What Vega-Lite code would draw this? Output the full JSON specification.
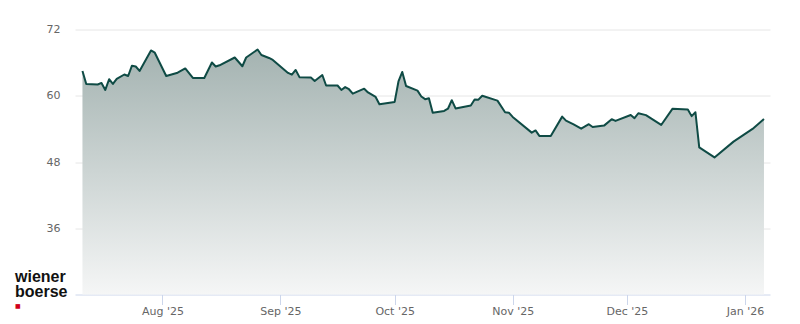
{
  "$schema": "https://vega.github.io/schema/vega-lite/v6.json",
  "width": 695,
  "height": 265,
  "autosize": {"type": "none"},
  "padding": {"left": 75, "top": 29.5, "right": 30, "bottom": 29.5},
  "background": "white",
  "config": {"view": {"stroke": null}, "font": "DejaVu Sans"},
  "title": {
    "text": ["wiener", "boerse"],
    "orient": "bottom",
    "anchor": "start",
    "frame": "group",
    "font": "Liberation Sans",
    "fontSize": 16,
    "fontWeight": "bold",
    "color": "#111111",
    "lineHeight": 15,
    "dx": -60,
    "offset": -48,
    "subtitle": "■",
    "subtitleFont": "DejaVu Sans",
    "subtitleColor": "#d0001a",
    "subtitleFontSize": 6,
    "subtitlePadding": 3
  },
  "data": {
    "values": [
      {"date": "2025-07-11", "price": 64.49},
      {"date": "2025-07-12", "price": 62.14},
      {"date": "2025-07-15", "price": 62.04},
      {"date": "2025-07-16", "price": 62.32},
      {"date": "2025-07-17", "price": 61.05},
      {"date": "2025-07-18", "price": 62.99},
      {"date": "2025-07-19", "price": 62.14},
      {"date": "2025-07-20", "price": 63.04},
      {"date": "2025-07-22", "price": 63.85},
      {"date": "2025-07-23", "price": 63.58},
      {"date": "2025-07-24", "price": 65.45},
      {"date": "2025-07-25", "price": 65.30},
      {"date": "2025-07-26", "price": 64.49},
      {"date": "2025-07-29", "price": 68.20},
      {"date": "2025-07-30", "price": 67.80},
      {"date": "2025-07-31", "price": 66.39},
      {"date": "2025-08-02", "price": 63.58},
      {"date": "2025-08-05", "price": 64.18},
      {"date": "2025-08-07", "price": 64.94},
      {"date": "2025-08-09", "price": 63.22},
      {"date": "2025-08-12", "price": 63.22},
      {"date": "2025-08-14", "price": 66.03},
      {"date": "2025-08-15", "price": 65.30},
      {"date": "2025-08-16", "price": 65.52},
      {"date": "2025-08-20", "price": 66.93},
      {"date": "2025-08-22", "price": 65.34},
      {"date": "2025-08-23", "price": 66.93},
      {"date": "2025-08-26", "price": 68.38},
      {"date": "2025-08-27", "price": 67.38},
      {"date": "2025-08-29", "price": 66.84},
      {"date": "2025-08-30", "price": 66.48},
      {"date": "2025-09-03", "price": 64.13},
      {"date": "2025-09-04", "price": 63.82},
      {"date": "2025-09-05", "price": 64.67},
      {"date": "2025-09-06", "price": 63.37},
      {"date": "2025-09-09", "price": 63.31},
      {"date": "2025-09-10", "price": 62.68},
      {"date": "2025-09-12", "price": 63.76},
      {"date": "2025-09-13", "price": 61.86},
      {"date": "2025-09-16", "price": 61.86},
      {"date": "2025-09-17", "price": 61.05},
      {"date": "2025-09-18", "price": 61.56},
      {"date": "2025-09-19", "price": 61.18},
      {"date": "2025-09-20", "price": 60.38},
      {"date": "2025-09-23", "price": 61.28},
      {"date": "2025-09-24", "price": 60.60},
      {"date": "2025-09-26", "price": 59.78},
      {"date": "2025-09-27", "price": 58.46},
      {"date": "2025-10-01", "price": 58.88},
      {"date": "2025-10-02", "price": 62.59},
      {"date": "2025-10-03", "price": 64.31},
      {"date": "2025-10-04", "price": 61.77},
      {"date": "2025-10-07", "price": 60.92},
      {"date": "2025-10-08", "price": 59.87},
      {"date": "2025-10-09", "price": 59.38},
      {"date": "2025-10-10", "price": 59.55},
      {"date": "2025-10-11", "price": 56.94},
      {"date": "2025-10-14", "price": 57.25},
      {"date": "2025-10-15", "price": 57.65},
      {"date": "2025-10-16", "price": 59.20},
      {"date": "2025-10-17", "price": 57.70},
      {"date": "2025-10-21", "price": 58.24},
      {"date": "2025-10-22", "price": 59.33},
      {"date": "2025-10-23", "price": 59.29},
      {"date": "2025-10-24", "price": 60.00},
      {"date": "2025-10-28", "price": 59.11},
      {"date": "2025-10-30", "price": 57.01},
      {"date": "2025-10-31", "price": 56.94},
      {"date": "2025-11-01", "price": 56.16},
      {"date": "2025-11-06", "price": 53.32},
      {"date": "2025-11-07", "price": 53.72},
      {"date": "2025-11-08", "price": 52.72},
      {"date": "2025-11-11", "price": 52.72},
      {"date": "2025-11-14", "price": 56.22},
      {"date": "2025-11-15", "price": 55.49},
      {"date": "2025-11-17", "price": 54.80},
      {"date": "2025-11-19", "price": 54.03},
      {"date": "2025-11-21", "price": 54.84},
      {"date": "2025-11-22", "price": 54.35},
      {"date": "2025-11-25", "price": 54.59},
      {"date": "2025-11-27", "price": 55.76},
      {"date": "2025-11-28", "price": 55.44},
      {"date": "2025-12-02", "price": 56.52},
      {"date": "2025-12-03", "price": 55.93},
      {"date": "2025-12-04", "price": 56.83},
      {"date": "2025-12-06", "price": 56.49},
      {"date": "2025-12-10", "price": 54.71},
      {"date": "2025-12-13", "price": 57.66},
      {"date": "2025-12-17", "price": 57.52},
      {"date": "2025-12-18", "price": 56.31},
      {"date": "2025-12-19", "price": 57.01},
      {"date": "2025-12-20", "price": 50.64},
      {"date": "2025-12-24", "price": 48.83},
      {"date": "2025-12-29", "price": 51.69},
      {"date": "2026-01-03", "price": 53.99},
      {"date": "2026-01-06", "price": 55.80}
    ]
  },
  "encoding": {
    "x": {
      "field": "date",
      "type": "temporal",
      "scale": {
        "type": "utc",
        "domain": [
          {"year": 2025, "month": 7, "date": 9, "hours": 1, "utc": true},
          {"year": 2026, "month": 1, "date": 7, "hours": 14, "utc": true}
        ]
      },
      "axis": {
        "title": null,
        "format": "%b '%y",
        "tickCount": {"interval": "month", "step": 1},
        "grid": false,
        "domainColor": "#ccd6eb",
        "tickColor": "#ccd6eb",
        "tickSize": 10,
        "labelColor": "#666666",
        "labelFontSize": 11,
        "labelPadding": 1,
        "labelFlush": false,
        "labelOverlap": false
      }
    },
    "y": {
      "field": "price",
      "type": "quantitative",
      "scale": {"domain": [24, 72], "zero": false, "nice": false},
      "axis": {
        "title": null,
        "values": [36, 48, 60, 72],
        "domain": false,
        "ticks": false,
        "gridColor": "#e6e6e6",
        "labelColor": "#666666",
        "labelFontSize": 11,
        "labelPadding": 15
      }
    }
  },
  "layer": [
    {
      "mark": {
        "type": "area",
        "color": {
          "gradient": "linear",
          "x1": 0, "y1": 0, "x2": 0, "y2": 1,
          "stops": [
            {"offset": 0, "color": "#a4b3b1"},
            {"offset": 1, "color": "#f5f6f6"}
          ]
        }
      },
      "encoding": {"y2": {"datum": 24}}
    },
    {
      "mark": {"type": "line", "color": "#0f4b45", "strokeWidth": 2, "strokeJoin": "round"},
      "encoding": {}
    }
  ]
}
